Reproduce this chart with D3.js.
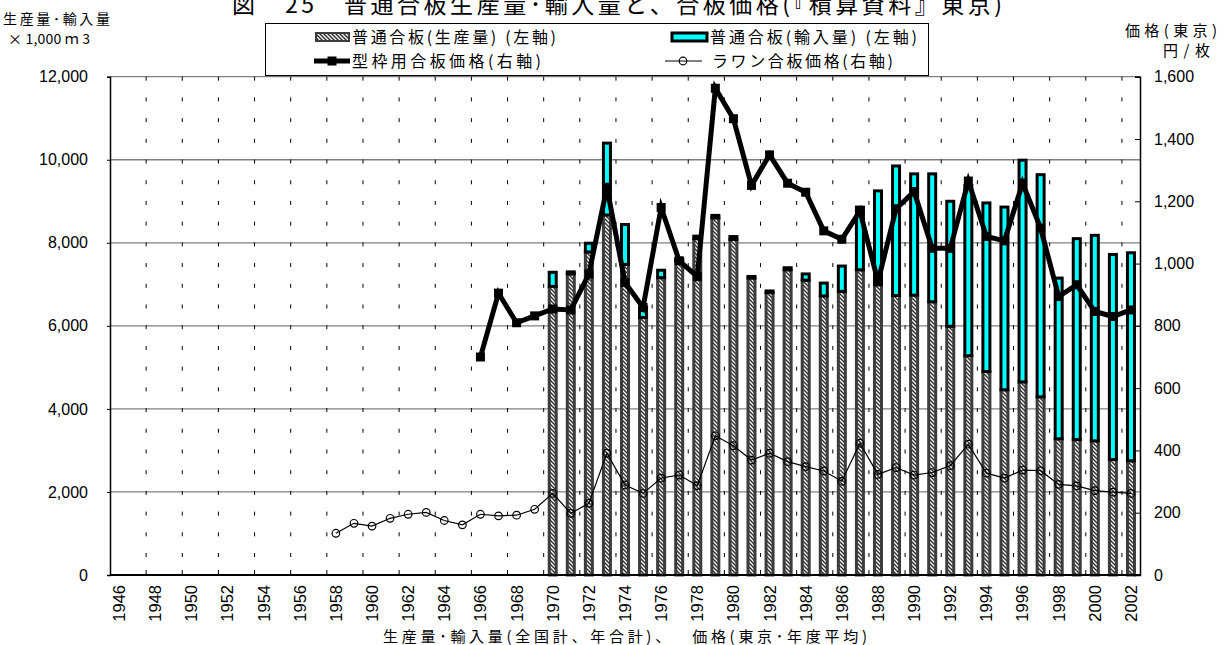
<!DOCTYPE html>
<html><head><meta charset="utf-8">
<script src="https://cdn.jsdelivr.net/npm/d3@7"></script>
<style>body{margin:0;background:#fff}svg{display:block}</style>
</head><body>
<svg id="c" width="1223" height="645"></svg>
<script>
// ---- data ----
const allYears = d3.range(1946, 2003);
const tickYears = [1946,1948,1950,1952,1954,1956,1958,1960,1962,1964,1966,1968,1970,1972,1974,1976,1978,1980,1982,1984,1986,1988,1990,1992,1994,1996,1998,2000,2002];
const barYears = [1970,1971,1972,1973,1974,1975,1976,1977,1978,1979,1980,1981,1982,1983,1984,1985,1986,1987,1988,1989,1990,1991,1992,1993,1994,1995,1996,1997,1998,1999,2000,2001,2002];
const production = [6950,7250,7780,8670,7480,6200,7160,7570,8100,8600,8080,7150,6800,7350,7100,6720,6830,7350,6990,6730,6740,6580,5990,5280,4900,4460,4650,4290,3280,3260,3230,2780,2750];
const imports = [340,50,210,1730,960,250,180,50,60,60,70,40,40,50,150,310,610,1510,2260,3120,2920,3080,3010,4100,4060,4400,5340,5350,3870,4840,4950,4940,5010];
const formYears = [1966,1967,1968,1969,1970,1971,1972,1973,1974,1975,1976,1977,1978,1979,1980,1981,1982,1983,1984,1985,1986,1987,1988,1989,1990,1991,1992,1993,1994,1995,1996,1997,1998,1999,2000,2001,2002];
const formPrice = [700,905,810,832,854,851,966,1245,939,859,1180,1009,958,1563,1465,1251,1349,1258,1229,1105,1078,1169,942,1176,1231,1049,1049,1265,1087,1073,1258,1114,894,932,846,830,851];
const lauanYears = [1958,1959,1960,1961,1962,1963,1964,1965,1966,1967,1968,1969,1970,1971,1972,1973,1974,1975,1976,1977,1978,1979,1980,1981,1982,1983,1984,1985,1986,1987,1988,1989,1990,1991,1992,1993,1994,1995,1996,1997,1998,1999,2000,2001,2002];
const lauanPrice = [134,166,157,182,195,201,175,161,195,190,192,211,262,198,230,391,289,262,311,321,287,447,415,369,391,364,348,334,301,423,323,345,321,329,351,420,327,311,337,335,291,286,271,266,262];
const leftTicks = [0,2000,4000,6000,8000,10000,12000];
const rightTicks = [0,200,400,600,800,1000,1200,1400,1600];

// ---- layout ----
const L = 110, R = 1140, T = 76.7, B = 575;
const svg = d3.select('#c');
const JP = '"Noto Sans CJK JP","Noto Sans",sans-serif';
const NUM = '"Liberation Sans",Arial,sans-serif';

const x = d3.scaleBand().domain(allYears).range([L, R]).padding(0);
const yL = d3.scaleLinear().domain([0, 12000]).range([B, T]);
const yR = d3.scaleLinear().domain([0, 1600]).range([B, T]);
const cx = yr => x(yr) + x.bandwidth() / 2;

// hatch pattern
const defs = svg.append('defs');
const pat = defs.append('pattern').attr('id', 'hatch').attr('patternUnits', 'userSpaceOnUse')
  .attr('width', 4).attr('height', 4);
pat.append('rect').attr('width', 4).attr('height', 4).attr('fill', '#333');
pat.append('path').attr('d', 'M0,0 L4,4 M-1,3 L1,5 M3,-1 L5,1')
  .attr('stroke', '#fff').attr('stroke-width', 1.3);

// horizontal gridlines
svg.append('g').selectAll('line').data(leftTicks.filter(d => d > 0)).join('line')
  .attr('x1', L).attr('x2', R).attr('y1', d => yL(d)).attr('y2', d => yL(d))
  .attr('stroke', '#808080').attr('stroke-width', 1.3);

// vertical dotted lines at 2-year boundaries
const boundYears = tickYears.filter(d => d > 1946);
svg.append('g').selectAll('line').data(boundYears).join('line')
  .attr('x1', d => x(d)).attr('x2', d => x(d)).attr('y1', T).attr('y2', B)
  .attr('stroke', '#000').attr('stroke-width', 1)
  .attr('stroke-dasharray', '4 16.71');

// bars
const barData = barYears.map((yr, i) => ({yr, p: production[i], m: imports[i]}));
const bw = 7;
svg.append('g').selectAll('rect').data(barData).join('rect')
  .attr('x', d => cx(d.yr) - bw / 2).attr('width', bw)
  .attr('y', d => yL(d.p)).attr('height', d => yL(0) - yL(d.p))
  .attr('fill', 'url(#hatch)').attr('stroke', '#3c3c3c').attr('stroke-width', 3);
svg.append('g').selectAll('rect').data(barData).join('rect')
  .attr('x', d => cx(d.yr) - bw / 2).attr('width', bw)
  .attr('y', d => yL(d.p + d.m)).attr('height', d => yL(d.p) - yL(d.p + d.m))
  .attr('fill', '#00ffff').attr('stroke', '#000').attr('stroke-width', 3);

// axes
const gx = svg.append('g').attr('transform', `translate(0,${B})`)
  .call(d3.axisBottom(x).tickValues(tickYears).tickSize(0).tickPadding(8));
gx.select('.domain').remove();
gx.selectAll('text').attr('transform', 'rotate(-90)').attr('text-anchor', 'end')
  .attr('x', -10).attr('y', 0).attr('dy', '0.36em')
  .style('font-family', NUM).style('font-size', '16.5px').attr('fill', '#000');
// bottom inward ticks
svg.append('g').selectAll('line').data(boundYears).join('line')
  .attr('x1', d => x(d)).attr('x2', d => x(d)).attr('y1', B).attr('y2', B - 5)
  .attr('stroke', '#000').attr('stroke-width', 1);
svg.append('line').attr('x1', L).attr('x2', R).attr('y1', B).attr('y2', B)
  .attr('stroke', '#000').attr('stroke-width', 2);

const gl = svg.append('g').attr('transform', `translate(${L},0)`)
  .call(d3.axisLeft(yL).tickValues(leftTicks).tickFormat(d3.format(',')).tickSize(3).tickPadding(19));
gl.select('.domain').attr('stroke', '#000').attr('stroke-width', 1.5);
gl.selectAll('text').style('font-family', NUM).style('font-size', '16px').attr('fill', '#000');

const gr = svg.append('g').attr('transform', `translate(${R},0)`)
  .call(d3.axisRight(yR).tickValues(rightTicks).tickFormat(d3.format(',')).tickSize(-5).tickPadding(14));
gr.select('.domain').attr('stroke', '#000').attr('stroke-width', 1.5);
gr.selectAll('text').style('font-family', NUM).style('font-size', '16px').attr('fill', '#000');

// lines
const formData = formYears.map((yr, i) => ({yr, v: formPrice[i]}));
const lauanData = lauanYears.map((yr, i) => ({yr, v: lauanPrice[i]}));
const line = d3.line().x(d => cx(d.yr)).y(d => yR(d.v));
svg.append('path').datum(lauanData).attr('d', line).attr('fill', 'none')
  .attr('stroke', '#000').attr('stroke-width', 1.2);
svg.append('g').selectAll('circle').data(lauanData).join('circle')
  .attr('cx', d => cx(d.yr)).attr('cy', d => yR(d.v)).attr('r', 3.8)
  .attr('fill', 'none').attr('stroke', '#000').attr('stroke-width', 1.2);
svg.append('path').datum(formData).attr('d', line).attr('fill', 'none')
  .attr('stroke', '#000').attr('stroke-width', 5).attr('stroke-linejoin', 'miter');
svg.append('g').selectAll('rect').data(formData).join('rect')
  .attr('x', d => cx(d.yr) - 4.5).attr('y', d => yR(d.v) - 4.5).attr('width', 9).attr('height', 9)
  .attr('fill', '#000');

// title (partly above the top edge, as in the reference)
svg.append('text').attr('x', 232).attr('y', 13).style('font-family', JP).style('font-size', '23px')
  .attr('textLength', 770).attr('lengthAdjust', 'spacing')
  .text('図　25　普通合板生産量･輸入量と、合板価格(『積算資料』東京)');

// axis titles
svg.append('text').attr('x', 3).attr('y', 24).style('font-family', JP).style('font-size', '14px')
  .attr('textLength', 107).attr('lengthAdjust', 'spacing').text('生産量･輸入量');
svg.append('text').attr('x', 8).attr('y', 44).style('font-family', JP).style('font-size', '14px')
  .attr('textLength', 82).attr('lengthAdjust', 'spacing').text('× 1,000 ｍ 3');
svg.append('text').attr('x', 1125).attr('y', 36).style('font-family', JP).style('font-size', '15px')
  .attr('textLength', 92).attr('lengthAdjust', 'spacing').text('価格(東京)');
svg.append('text').attr('x', 1163).attr('y', 56).style('font-family', JP).style('font-size', '15px')
  .attr('textLength', 47).attr('lengthAdjust', 'spacing').text('円 / 枚');
svg.append('text').attr('x', 383).attr('y', 642).style('font-family', JP).style('font-size', '15px')
  .attr('textLength', 484).attr('lengthAdjust', 'spacing')
  .text('生産量･輸入量(全国計、年合計)、　 価格(東京･年度平均)');

// legend
const lg = svg.append('g');
lg.append('rect').attr('x', 265.5).attr('y', 23.5).attr('width', 663).attr('height', 52)
  .attr('fill', '#fff').attr('stroke', '#000').attr('stroke-width', 1);
const r1 = 37, r2 = 61;
lg.append('rect').attr('x', 316).attr('y', r1 - 4).attr('width', 33).attr('height', 8)
  .attr('fill', 'url(#hatch)').attr('stroke', '#3c3c3c').attr('stroke-width', 2);
lg.append('rect').attr('x', 672).attr('y', r1 - 4).attr('width', 35).attr('height', 8)
  .attr('fill', '#00ffff').attr('stroke', '#000').attr('stroke-width', 3);
lg.append('line').attr('x1', 314).attr('x2', 350).attr('y1', r2).attr('y2', r2)
  .attr('stroke', '#000').attr('stroke-width', 5);
lg.append('rect').attr('x', 327.5).attr('y', r2 - 4.5).attr('width', 9).attr('height', 9).attr('fill', '#000');
lg.append('line').attr('x1', 665).attr('x2', 702).attr('y1', r2).attr('y2', r2)
  .attr('stroke', '#000').attr('stroke-width', 1.2);
lg.append('circle').attr('cx', 683).attr('cy', r2).attr('r', 3.8).attr('fill', 'none')
  .attr('stroke', '#000').attr('stroke-width', 1.2);
const legTexts = [
  {x: 352, y: r1, w: 204, t: '普通合板(生産量) (左軸)'},
  {x: 710, y: r1, w: 207, t: '普通合板(輸入量) (左軸)'},
  {x: 352, y: r2, w: 189, t: '型枠用合板価格(右軸)'},
  {x: 712, y: r2, w: 181, t: 'ラワン合板価格(右軸)'}
];
lg.selectAll('text.leg').data(legTexts).join('text').attr('class', 'leg')
  .attr('x', d => d.x).attr('y', d => d.y).attr('dy', '0.36em')
  .attr('textLength', d => d.w).attr('lengthAdjust', 'spacing')
  .style('font-family', JP).style('font-size', '16px').text(d => d.t);
</script>
</body></html>
